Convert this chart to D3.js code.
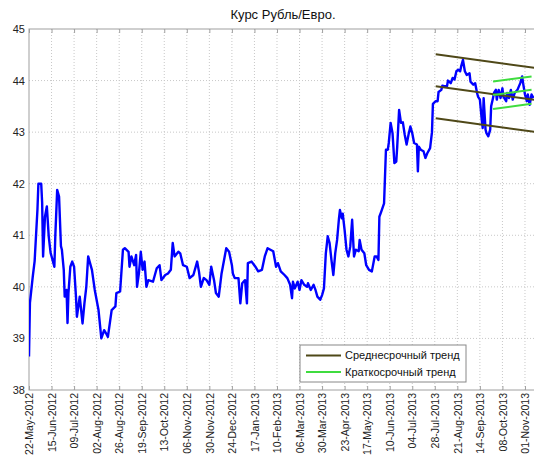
<!DOCTYPE html>
<html>
<head>
<meta charset="utf-8">
<script src="https://cdn.jsdelivr.net/npm/d3@7"></script>
<style>
  body { margin: 0; background: #fff; }
  text { font-family: "Liberation Sans", Arial, sans-serif; }
</style>
</head>
<body>
<div id="chart"></div>
<script>
// data: days since 22-May-2012 and rate
var startDate = new Date(2012, 4, 22);
var rateDays = [0,1,4,6,9,10,13,14,15,17,19,21,23,27,28,30,32,34,35,37,38,40,41,42,44,46,48,50,51,54,57,59,61,63,67,70,74,77,80,82,84,88,92,93,97,100,102,106,107,109,112,114,115,117,119,121,123,125,127,132,136,139,141,145,148,151,153,155,159,161,164,168,171,175,179,181,183,186,189,192,194,197,199,202,205,210,213,216,217,219,223,225,227,230,232,233,237,241,244,248,251,254,257,260,263,265,268,272,275,278,280,281,283,286,288,290,293,296,297,300,303,305,307,310,312,314,316,318,320,322,324,326,328,330,331,333,334,336,338,340,342,344,346,348,351,352,354,357,359,362,365,368,370,372,373,375,378,380,382,383,385,387,389,391,392,394,396,398,400,402,404,406,408,410,413,414,415,417,420,422,424,427,429,430,433,435,436,439,440,442,445,446,449,451,453,455,457,459,460,462,464,466,469,470,473,475,477,478,480,482,483,484,486,487,489,491,492,494,495,497,498,500,502,504,505,508,509,511,513,515,517,520,523,525,526,528,530,531,533,535,537];
var rateValues = [38.65,39.69,40.2,40.5,41.5,42.0,42.0,41.63,40.59,41.36,41.56,40.98,40.66,40.39,40.98,41.88,41.75,40.79,40.72,40.33,39.81,39.94,39.30,39.88,40.39,40.49,40.39,39.81,39.42,39.81,39.29,39.68,40.0,40.59,40.33,39.94,39.55,39.0,39.16,39.1,39.03,39.55,39.62,39.88,39.91,40.72,40.75,40.68,40.39,40.59,40.42,40.62,40.0,40.26,40.68,40.33,40.49,40.0,40.13,40.10,40.36,40.42,40.13,40.23,40.26,40.33,40.85,40.59,40.68,40.65,40.42,40.39,40.17,40.23,40.49,40.29,40.0,40.17,40.13,40.04,40.39,40.13,39.88,39.81,40.26,40.75,40.68,40.42,40.26,40.17,40.17,39.68,40.07,40.13,39.68,40.46,40.49,40.39,40.30,40.33,40.59,40.75,40.72,40.69,40.39,40.46,40.30,40.23,40.17,40.04,39.78,40.10,39.97,40.10,39.94,40.13,40.04,40.0,40.07,39.94,40.04,39.94,39.81,39.75,39.84,39.97,40.65,40.98,40.85,40.52,40.23,40.65,40.91,41.33,41.49,41.33,41.42,41.10,40.72,40.59,40.78,41.30,40.59,40.72,40.69,40.91,40.72,40.65,40.42,40.33,40.30,40.59,40.59,40.52,41.36,41.46,41.62,42.66,42.66,42.79,43.18,42.98,42.40,42.43,42.72,43.43,43.18,43.19,42.95,42.76,42.95,43.11,42.98,42.79,42.76,42.24,42.72,42.66,42.63,42.50,42.59,42.69,43.0,43.55,43.60,43.6,43.78,43.82,43.9,43.89,43.89,44.0,43.95,44.05,44.02,44.18,44.21,44.18,44.27,44.40,44.18,44.11,44.14,43.98,43.92,43.95,43.76,43.69,43.63,43.24,43.08,43.66,43.05,42.98,42.92,43.05,43.50,43.66,43.76,43.82,43.63,43.82,43.66,43.85,43.69,43.60,43.76,43.66,43.82,43.63,43.76,43.82,43.95,44.08,43.95,43.73,43.60,43.73,43.53,43.73,43.66];

// trend channels (start/end day, upper/middle/lower values)
var midTrendDays = [433, 545];
var midTrendUpper = [44.51, 44.23];
var midTrendMiddle = [43.89, 43.61];
var midTrendLower = [43.27, 42.99];

var shortTrendDays = [494, 535];
var shortTrendUpper = [43.98, 44.08];
var shortTrendMiddle = [43.72, 43.82];
var shortTrendLower = [43.45, 43.55];

var tickLabels = ["22-May-2012","15-Jun-2012","09-Jul-2012","02-Aug-2012","26-Aug-2012","19-Sep-2012","13-Oct-2012","06-Nov-2012","30-Nov-2012","24-Dec-2012","17-Jan-2013","10-Feb-2013","06-Mar-2013","30-Mar-2013","23-Apr-2013","17-May-2013","10-Jun-2013","04-Jul-2013","28-Jul-2013","21-Aug-2013","14-Sep-2013","08-Oct-2013","01-Nov-2013"];
var yTicks = [38, 39, 40, 41, 42, 43, 44, 45];

var W = 534, H = 457;
var margin = {left: 29, top: 29, right: 540, bottom: 390};

function day(n) { return d3.timeDay.offset(startDate, n); }

var x = d3.scaleTime()
    .domain([startDate, day(544)])
    .range([margin.left, margin.right]);
var y = d3.scaleLinear()
    .domain([38, 45])
    .range([margin.bottom, margin.top]);

var svg = d3.select("#chart").append("svg")
    .attr("width", W)
    .attr("height", H);

var tickDates = tickLabels.map(function(s) { return d3.timeParse("%d-%b-%Y")(s); });

// grid
svg.append("g").selectAll("line.vg")
    .data(tickDates.slice(1))
    .enter().append("line")
    .attr("x1", function(d) { return x(d); })
    .attr("x2", function(d) { return x(d); })
    .attr("y1", margin.top)
    .attr("y2", margin.bottom)
    .attr("stroke", "#c8c8c8")
    .attr("stroke-dasharray", "1,2");
svg.append("g").selectAll("line.hg")
    .data(yTicks.slice(1, -1))
    .enter().append("line")
    .attr("x1", margin.left)
    .attr("x2", margin.right)
    .attr("y1", function(d) { return y(d); })
    .attr("y2", function(d) { return y(d); })
    .attr("stroke", "#c8c8c8")
    .attr("stroke-dasharray", "1,2");

// frame
svg.append("rect")
    .attr("x", margin.left)
    .attr("y", margin.top)
    .attr("width", margin.right - margin.left)
    .attr("height", margin.bottom - margin.top)
    .attr("fill", "none")
    .attr("stroke", "#a0a0a0");

// axes
var xAxis = svg.append("g")
    .attr("transform", "translate(0," + margin.bottom + ")")
    .call(d3.axisBottom(x).tickValues(tickDates).tickSize(-4).tickFormat(d3.timeFormat("%d-%b-%Y")));
xAxis.select(".domain").remove();
xAxis.selectAll(".tick line").attr("stroke", "#a0a0a0");
xAxis.selectAll(".tick text")
    .attr("transform", "rotate(-90)")
    .attr("x", -3)
    .attr("y", 0)
    .attr("dy", "0.35em")
    .style("text-anchor", "end")
    .attr("font-size", 10.5)
    .attr("fill", "#222");

var xTop = svg.append("g")
    .attr("transform", "translate(0," + margin.top + ")")
    .call(d3.axisTop(x).tickValues(tickDates).tickSize(-4).tickFormat(""));
xTop.select(".domain").remove();
xTop.selectAll(".tick line").attr("stroke", "#a0a0a0");

var yAxis = svg.append("g")
    .attr("transform", "translate(" + margin.left + ",0)")
    .call(d3.axisLeft(y).tickValues(yTicks).tickSize(0).tickPadding(4).tickFormat(d3.format("d")));
yAxis.select(".domain").remove();
yAxis.selectAll(".tick text").attr("font-size", 11).attr("fill", "#222");

// clip
svg.append("clipPath").attr("id", "clip")
    .append("rect")
    .attr("x", margin.left).attr("y", margin.top)
    .attr("width", margin.right - margin.left)
    .attr("height", margin.bottom - margin.top);

var plot = svg.append("g").attr("clip-path", "url(#clip)");

var line = d3.line()
    .x(function(d) { return x(day(d[0])); })
    .y(function(d) { return y(d[1]); });

plot.append("path")
    .datum(d3.zip(rateDays, rateValues))
    .attr("fill", "none")
    .attr("stroke", "#0000ff")
    .attr("stroke-width", 2.4)
    .attr("stroke-linejoin", "round")
    .attr("d", line);

var olive = "#4f4818", green = "#3fdc3f";
[midTrendUpper, midTrendMiddle, midTrendLower].forEach(function(v) {
  plot.append("path")
      .datum(d3.zip(midTrendDays, v))
      .attr("fill", "none")
      .attr("stroke", olive)
      .attr("stroke-width", 2)
      .attr("d", line);
});
[shortTrendUpper, shortTrendMiddle, shortTrendLower].forEach(function(v) {
  plot.append("path")
      .datum(d3.zip(shortTrendDays, v))
      .attr("fill", "none")
      .attr("stroke", green)
      .attr("stroke-width", 2)
      .attr("d", line);
});

// title
svg.append("text")
    .attr("x", 283)
    .attr("y", 19)
    .attr("text-anchor", "middle")
    .attr("font-size", 13)
    .attr("fill", "#111")
    .text("Курс Рубль/Евро.");

// legend
var legend = svg.append("g").attr("transform", "translate(300,345)");
legend.append("rect")
    .attr("width", 166).attr("height", 37)
    .attr("fill", "#fff").attr("stroke", "#888");
var legendItems = [["Среднесрочный тренд", olive], ["Краткосрочный тренд", green]];
legendItems.forEach(function(it, i) {
  var yy = 10.5 + i * 16.5;
  legend.append("line")
      .attr("x1", 6).attr("x2", 41)
      .attr("y1", yy).attr("y2", yy)
      .attr("stroke", it[1]).attr("stroke-width", 2);
  legend.append("text")
      .attr("x", 45).attr("y", yy)
      .attr("dy", "0.35em")
      .attr("font-size", 11)
      .attr("fill", "#111")
      .text(it[0]);
});
</script>
</body>
</html>
